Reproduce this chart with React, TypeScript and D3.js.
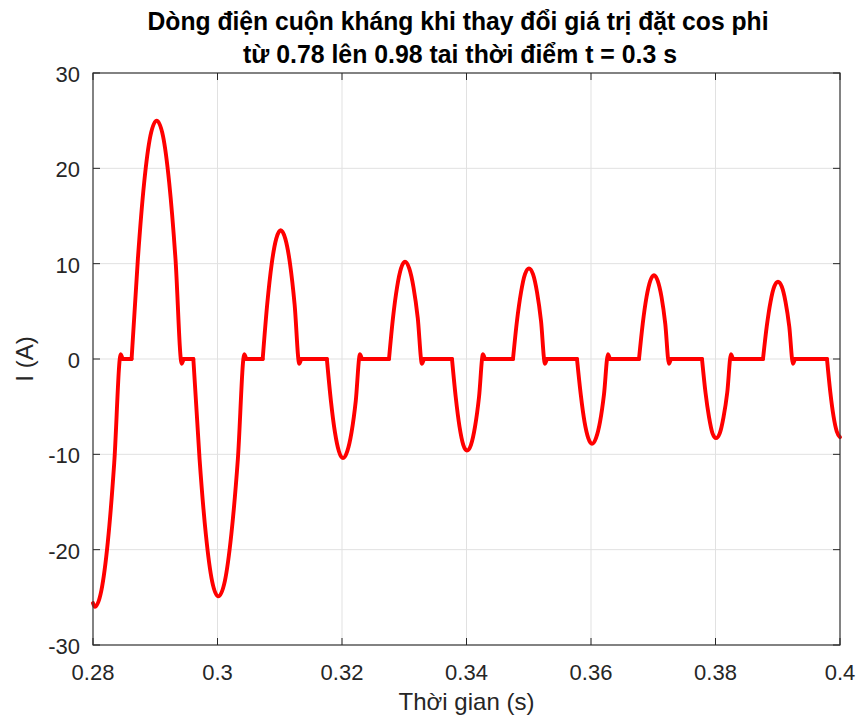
import React from "react";
import * as d3 from "d3";

const W = 862;
const H = 723;
const M = { left: 93, right: 22, top: 73, bottom: 78 };

// axis ticks
const xTicks = [0.28, 0.3, 0.32, 0.34, 0.36, 0.38, 0.4];
const yTicks = [-30, -20, -10, 0, 10, 20, 30];

// reactor current
const time = [
  0.28, 0.2803, 0.28134, 0.28238, 0.28341, 0.28445, 0.28475,
  0.2862, 0.28721, 0.28822, 0.28922, 0.29023, 0.29124, 0.29224, 0.29325, 0.29425, 0.29455,
  0.29612, 0.29712, 0.29813, 0.29913, 0.30013, 0.30118, 0.30222, 0.30327, 0.30431, 0.30461,
  0.30726, 0.30798, 0.30871, 0.30943, 0.31015, 0.3109, 0.31165, 0.31239, 0.31314, 0.31344,
  0.31757, 0.31822, 0.31887, 0.31951, 0.32016, 0.32084, 0.32153, 0.32221, 0.32289, 0.32319,
  0.32755, 0.32819, 0.32884, 0.32948, 0.33012, 0.3308, 0.33149, 0.33217, 0.33285, 0.33315,
  0.33767, 0.33827, 0.33888, 0.33948, 0.34008, 0.34072, 0.34137, 0.34201, 0.34265, 0.34295,
  0.34747, 0.34811, 0.34876, 0.3494, 0.35004, 0.35068, 0.35133, 0.35197, 0.35261, 0.35291,
  0.35775, 0.35835, 0.35896, 0.35956, 0.36016, 0.3608, 0.36145, 0.36209, 0.36273, 0.36303,
  0.36771, 0.36831, 0.36892, 0.36952, 0.37012, 0.37072, 0.37133, 0.37193, 0.37253, 0.37283,
  0.37783, 0.37839, 0.37896, 0.37952, 0.38008, 0.38068, 0.38129, 0.38189, 0.38249, 0.38279,
  0.38763, 0.38823, 0.38884, 0.38944, 0.39004, 0.39064, 0.39125, 0.39185, 0.39245, 0.39275,
  0.39791, 0.39843, 0.39896, 0.39948, 0.4,
];
const current = [
  -25.6, -26.0, -24.3, -19.2, -10.9, 0.5, 0,
  0, 10.5, 18.5, 23.4, 25.0, 23.4, 18.5, 10.5, -0.5, 0,
  0, -10.5, -18.4, -23.3, -24.9, -23.3, -18.4, -10.5, 0.5, 0,
  0, 5.7, 10.0, 12.6, 13.5, 12.6, 10.0, 5.7, -0.5, 0,
  0, -4.4, -7.7, -9.7, -10.4, -9.7, -7.7, -4.4, 0.5, 0,
  0, 4.3, 7.5, 9.5, 10.2, 9.5, 7.5, 4.3, -0.5, 0,
  0, -4.0, -7.1, -9.0, -9.6, -9.0, -7.1, -4.0, 0.5, 0,
  0, 4.0, 7.0, 8.9, 9.5, 8.9, 7.0, 4.0, -0.5, 0,
  0, -3.7, -6.6, -8.3, -8.9, -8.3, -6.6, -3.7, 0.5, 0,
  0, 3.7, 6.5, 8.2, 8.8, 8.2, 6.5, 3.7, -0.5, 0,
  0, -3.5, -6.1, -7.8, -8.3, -7.8, -6.1, -3.5, 0.5, 0,
  0, 3.4, 6.0, 7.6, 8.1, 7.6, 6.0, 3.4, -0.5, 0,
  0, -3.4, -6.0, -7.6, -8.2,
];

const FONT = "'Liberation Sans', Arial, sans-serif";
const AX = "#262626";

export default function App() {
  const x = d3.scaleLinear().domain([0.28, 0.4]).range([M.left, W - M.right]);
  const y = d3.scaleLinear().domain([-30, 30]).range([H - M.bottom, M.top]);
  const fmt = (v: number) => d3.format("~g")(v).replace("\u2212", "-");

  // split trace into flat runs and conduction lobes so the firing corners stay sharp
  const pts = time.map((t, i) => [t, current[i]] as [number, number]);
  const flat = (i: number) => current[i] === 0 && current[i + 1] === 0;
  const pieces: [number, number][][] = [];
  let cur: [number, number][] = [pts[0]];
  for (let i = 1; i < pts.length; i++) {
    cur.push(pts[i]);
    if (i < pts.length - 1 && flat(i - 1) !== flat(i)) {
      pieces.push(cur);
      cur = [pts[i]];
    }
  }
  pieces.push(cur);

  const line = d3
    .line<[number, number]>()
    .x((d) => x(d[0]))
    .y((d) => y(d[1]))
    .curve(d3.curveMonotoneX);

  const x0 = M.left, x1 = W - M.right, y0 = M.top, y1 = H - M.bottom;
  const cx = (x0 + x1) / 2;

  return (
    <svg width={W} height={H} style={{ position: "absolute", left: 0, top: 0, background: "#fff" }} fontFamily={FONT}>
      <rect x={0} y={0} width={W} height={H} fill="#fff" />
      {/* grid */}
      {xTicks.map((t) => (
        <line key={"gx" + t} x1={x(t)} x2={x(t)} y1={y0} y2={y1} stroke="#e1e1e1" strokeWidth={1} />
      ))}
      {yTicks.map((t) => (
        <line key={"gy" + t} x1={x0} x2={x1} y1={y(t)} y2={y(t)} stroke="#e1e1e1" strokeWidth={1} />
      ))}

      {/* trace */}
      <g fill="none" stroke="#ff0000" strokeWidth={3.9} strokeLinecap="round" strokeLinejoin="round">
        {pieces.map((p, i) => (
          <path key={i} d={line(p) || ""} />
        ))}
      </g>

      {/* box and ticks */}
      <rect x={x0} y={y0} width={x1 - x0} height={y1 - y0} fill="none" stroke="#3a3a3a" strokeWidth={1.2} />
      {xTicks.map((t) => (
        <g key={"tx" + t} stroke={AX}>
          <line x1={x(t)} x2={x(t)} y1={y1} y2={y1 - 7} />
          <line x1={x(t)} x2={x(t)} y1={y0} y2={y0 + 7} />
        </g>
      ))}
      {yTicks.map((t) => (
        <g key={"ty" + t} stroke={AX}>
          <line x1={x0} x2={x0 + 7} y1={y(t)} y2={y(t)} />
          <line x1={x1} x2={x1 - 7} y1={y(t)} y2={y(t)} />
        </g>
      ))}

      {/* tick labels */}
      {xTicks.map((t) => (
        <text key={"lx" + t} x={x(t)} y={680} textAnchor="middle" fontSize={22} fill={AX}>
          {fmt(t)}
        </text>
      ))}
      {yTicks.map((t) => (
        <text key={"ly" + t} x={x0 - 13} y={y(t) + 9} textAnchor="end" fontSize={22} fill={AX}>
          {fmt(t)}
        </text>
      ))}

      {/* labels */}
      <text x={cx} y={710} textAnchor="middle" fontSize={24} fill={AX}>
        Thời gian (s)
      </text>
      <text transform={`translate(33,${(y0 + y1) / 2}) rotate(-90)`} textAnchor="middle" fontSize={24} fill={AX}>
        I (A)
      </text>
      <text x={458} y={29.5} textAnchor="middle" fontSize={26} fontWeight="bold" fill="#000"
        textLength={621} lengthAdjust="spacingAndGlyphs">
        Dòng điện cuộn kháng khi thay đổi giá trị đặt cos phi
      </text>
      <text x={460} y={62.5} textAnchor="middle" fontSize={26} fontWeight="bold" fill="#000"
        textLength={434} lengthAdjust="spacingAndGlyphs">
        từ 0.78 lên 0.98 tai thời điểm t = 0.3 s
      </text>
    </svg>
  );
}
